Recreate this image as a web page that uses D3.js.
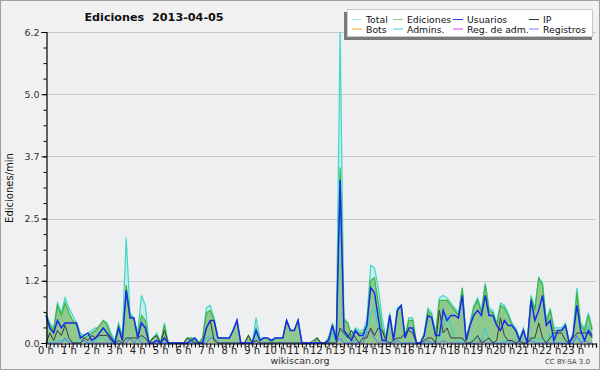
<!DOCTYPE html>
<html>
<head>
<meta charset="utf-8">
<script src="https://cdn.jsdelivr.net/npm/d3@7"></script>
<style>
  body { margin: 0; background: #fff; }
  svg { display: block; }
  text { font-family: "DejaVu Sans", sans-serif; }
</style>
</head>
<body>
<svg id="chart" width="600" height="370"></svg>
<script>
// 10-minute buckets, 144 per day, edits per minute
const total = [
  0.6, 0.4, 0.3, 0.8, 0.6, 0.9, 0.7, 0.55, 0.4, 0.2, 0.15, 0.2, 0.25, 0.3, 0.3, 0.45, 0.4, 0.2, 0.05, 0.4, 0.15, 2.1, 0.6, 0.5, 0.2, 0.95, 0.75, 0, 0.1, 0.2, 0, 0.4,
  0, 0, 0, 0, 0, 0.1, 0.1, 0.1, 0, 0.1, 0.7, 0.75, 0.5, 0.1, 0.1, 0.1, 0.1, 0.25, 0.45, 0, 0, 0.15, 0, 0.5, 0.1, 0.1, 0.1, 0.05, 0.1, 0.1, 0.1, 0.45,
  0.25, 0.25, 0.45, 0, 0, 0, 0, 0.1, 0, 0, 0.1, 0.4, 0.1, 6.2, 0.5, 0.4, 0.15, 0.3, 0.25, 0.25, 0.45, 1.55, 1.5, 1.1, 0.5, 0.1, 0.6, 0.1, 0.7, 0.75, 0.15, 0.5,
  0.5, 0, 0, 0.2, 0.7, 0.6, 0.2, 0.9, 0.95, 0.9, 0.8, 0.7, 0.6, 1.1, 0.1, 0.4, 0.75, 0.9, 0.65, 1.2, 0.7, 0.65, 0.4, 0.8, 0.75, 0.6, 0.4, 0.3, 0.1, 0.3,
  0, 0.95, 0.7, 1.3, 1.2, 0.45, 0.7, 0.3, 0.3, 0.3, 0.4, 0, 0.2, 1.1, 0.4, 0.3, 0.6, 0.3
];
const ediciones = [
  0.6, 0.35, 0.25, 0.75, 0.55, 0.8, 0.6, 0.45, 0.35, 0.15, 0.1, 0.15, 0.2, 0.25, 0.35, 0.45, 0.35, 0.15, 0, 0.35, 0.1, 1.15, 0.55, 0.5, 0.15, 0.55, 0.45, 0, 0.1, 0.15, 0, 0.35,
  0, 0, 0, 0, 0, 0.1, 0.1, 0.05, 0, 0.1, 0.6, 0.65, 0.45, 0.1, 0.1, 0.1, 0.1, 0.25, 0.45, 0, 0, 0.15, 0, 0.3, 0.05, 0.1, 0.1, 0, 0.1, 0.1, 0.1, 0.45,
  0.25, 0.25, 0.45, 0, 0, 0, 0, 0.1, 0, 0, 0.1, 0.35, 0.1, 3.5, 0.45, 0.4, 0.1, 0.25, 0.2, 0.2, 0.35, 1.25, 1.3, 0.8, 0.3, 0.1, 0.55, 0.1, 0.65, 0.75, 0.1, 0.45,
  0.45, 0, 0, 0.15, 0.65, 0.55, 0.15, 0.85, 0.85, 0.85, 0.75, 0.65, 0.55, 1.1, 0.05, 0.35, 0.7, 0.85, 0.6, 1.15, 0.65, 0.6, 0.35, 0.75, 0.7, 0.55, 0.35, 0.25, 0.05, 0.25,
  0, 0.9, 0.65, 1.3, 1.15, 0.4, 0.65, 0.25, 0.25, 0.25, 0.35, 0, 0.15, 1.0, 0.35, 0.25, 0.55, 0.25
];
const usuarios = [
  0.55, 0.3, 0.2, 0.45, 0.3, 0.4, 0.4, 0.4, 0.4, 0.1, 0.15, 0.2, 0.05, 0.1, 0.2, 0.3, 0.2, 0.1, 0, 0.3, 0.05, 1.05, 0.5, 0.5, 0.1, 0.4, 0.3, 0, 0, 0.05, 0, 0.1,
  0, 0, 0, 0, 0, 0, 0.05, 0.1, 0, 0, 0.3, 0.45, 0.45, 0.1, 0.1, 0.1, 0.1, 0.25, 0.45, 0, 0, 0, 0, 0.25, 0.05, 0.1, 0.1, 0.05, 0.1, 0.1, 0.1, 0.45,
  0.25, 0.25, 0.45, 0, 0, 0, 0, 0, 0, 0, 0.05, 0.35, 0.05, 3.25, 0.25, 0.15, 0.05, 0.25, 0.15, 0.15, 0.35, 1.1, 1.0, 0.5, 0.05, 0.05, 0.55, 0.05, 0.65, 0.75, 0.1, 0.3,
  0.3, 0, 0, 0.15, 0.55, 0.5, 0.15, 0.15, 0.65, 0.45, 0.55, 0.55, 0.5, 0.95, 0.05, 0.35, 0.55, 0.65, 0.55, 0.95, 0.55, 0.55, 0.35, 0.25, 0.45, 0.35, 0.35, 0.25, 0.05, 0.25,
  0, 0.85, 0.45, 0.65, 0.95, 0.35, 0.45, 0.05, 0.25, 0.25, 0.35, 0, 0.15, 0.75, 0.25, 0.05, 0.25, 0.15
];
const ip = [
  0, 0.2, 0.05, 0.25, 0.15, 0.35, 0.1, 0, 0, 0, 0.1, 0.05, 0.15, 0.1, 0.15, 0.15, 0.15, 0.05, 0, 0.05, 0, 0.1, 0.1, 0.1, 0.1, 0.15, 0.1, 0, 0.1, 0.15, 0, 0.25,
  0, 0, 0, 0, 0, 0.1, 0.05, 0, 0, 0, 0.3, 0.45, 0.05, 0, 0, 0, 0, 0, 0, 0, 0, 0.15, 0, 0.05, 0, 0, 0, 0, 0, 0, 0, 0,
  0, 0, 0, 0, 0, 0, 0.05, 0.1, 0, 0, 0, 0, 0, 0.3, 0.2, 0.1, 0.25, 0.1, 0, 0.1, 0.1, 0.3, 0.15, 0.3, 0.25, 0.05, 0, 0.05, 0.1, 0.1, 0.2, 0.25,
  0.2, 0, 0, 0.05, 0.1, 0.1, 0, 0.65, 0.2, 0.3, 0.1, 0.1, 0.1, 0.1, 0, 0, 0.05, 0.15, 0, 0.05, 0.1, 0, 0.05, 0.5, 0.15, 0.05, 0.05, 0, 0.05, 0,
  0, 0.1, 0.1, 0.4, 0.1, 0, 0.1, 0.2, 0.2, 0.2, 0.05, 0, 0.1, 0.2, 0.2, 0.2, 0.2, 0.1
];
const admins = [
  0, 0, 0, 0.05, 0.05, 0.05, 0.05, 0, 0, 0.1, 0, 0, 0, 0.05, 0.1, 0.1, 0.05, 0, 0, 0, 0, 0.1, 0.1, 0, 0, 0.1, 0.1, 0, 0, 0, 0, 0,
  0, 0, 0, 0, 0, 0, 0, 0, 0, 0, 0.1, 0.15, 0.1, 0, 0, 0, 0, 0, 0, 0, 0, 0, 0, 0.3, 0, 0, 0, 0, 0, 0, 0, 0,
  0, 0, 0, 0, 0, 0, 0, 0, 0, 0, 0, 0.2, 0, 0.3, 0.1, 0, 0, 0.05, 0, 0.1, 0.25, 0.6, 0.7, 0.3, 0.1, 0, 0, 0, 0.05, 0, 0, 0,
  0, 0, 0, 0, 0, 0, 0, 0.1, 0.3, 0.55, 0.35, 0.1, 0, 0.05, 0, 0, 0.1, 0.1, 0.05, 0.3, 0.05, 0, 0, 0, 0.05, 0, 0, 0.05, 0, 0,
  0, 0.1, 0, 0.1, 0.05, 0, 0.2, 0, 0, 0, 0, 0, 0, 0.1, 0, 0.2, 0.35, 0.1
];
const registros = [
  0, 0, 0, 0, 0, 0.1, 0, 0, 0, 0, 0.05, 0, 0, 0, 0, 0, 0, 0, 0, 0, 0, 0, 0.1, 0, 0.1, 0, 0, 0, 0, 0, 0, 0,
  0, 0, 0, 0, 0, 0, 0, 0, 0, 0, 0, 0.1, 0.1, 0, 0, 0, 0, 0, 0, 0, 0, 0, 0, 0, 0, 0, 0, 0, 0, 0, 0, 0,
  0, 0, 0, 0, 0, 0, 0, 0, 0, 0, 0, 0, 0, 0.1, 0, 0, 0, 0, 0, 0, 0.2, 0.25, 0.1, 0, 0, 0, 0, 0, 0.05, 0, 0, 0,
  0, 0, 0, 0, 0.05, 0, 0, 0, 0.05, 0, 0, 0, 0, 0, 0, 0, 0, 0, 0.05, 0, 0, 0, 0, 0, 0, 0.05, 0, 0, 0, 0,
  0, 0.05, 0, 0, 0, 0, 0, 0, 0, 0, 0, 0, 0, 0.15, 0, 0.05, 0, 0
];

const yTicks = [0, 1.24, 2.48, 3.72, 4.96, 6.2];
const yTickLabels = ["0.0", "1.2", "2.5", "3.7", "5.0", "6.2"];
const hours = d3.range(24);

const legendItems = [
  { name: "Total", color: "#a8eeee" },
  { name: "Ediciones", color: "#7fd07f" },
  { name: "Usuarios", color: "#3333ee" },
  { name: "IP", color: "#333333" },
  { name: "Bots", color: "#ffa030" },
  { name: "Admins.", color: "#40d0e4" },
  { name: "Reg. de adm.", color: "#e040f0" },
  { name: "Registros", color: "#7f7fff" }
];

const W = 600, H = 370;
const m = { top: 32, right: 4, bottom: 27, left: 46 };
const narrow = "'Liberation Sans', Arial, sans-serif";

const svg = d3.select("#chart");

svg.append("rect").attr("x", 0.5).attr("y", 0.5)
  .attr("width", W - 1).attr("height", H - 1)
  .attr("fill", "#f1f1f1").attr("stroke", "#a0a0a0");

const x = d3.scaleLinear().domain([0, 24]).range([m.left, W - m.right]);
const y = d3.scaleLinear().domain([0, 6.2]).range([H - m.bottom, m.top]);

svg.append("rect")
  .attr("x", m.left).attr("y", m.top)
  .attr("width", W - m.right - m.left).attr("height", H - m.bottom - m.top)
  .attr("fill", "#eeeff1");

// grid
svg.append("g").selectAll("line").data(yTicks.slice(1)).join("line")
  .attr("x1", m.left).attr("x2", W - m.right)
  .attr("y1", d => Math.round(y(d)) + 0.5).attr("y2", d => Math.round(y(d)) + 0.5)
  .attr("stroke", "#c9c9c9");

const px = (d, i) => x(i / 6);

const area = d3.area().x(px).y0(y(0)).y1(d => y(d));
const line = d3.line().x(px).y(d => y(d));

const plot = svg.append("g");
plot.append("path").datum(total).attr("d", area).attr("fill", "#c6eeec");
plot.append("path").datum(total).attr("d", line).attr("fill", "none").attr("stroke", "#3fd6c6").attr("stroke-width", 1.2);
plot.append("path").datum(ediciones).attr("d", area).attr("fill", "#90c990");
plot.append("path").datum(ediciones).attr("d", line).attr("fill", "none").attr("stroke", "#3cb53c").attr("stroke-width", 1.2);
plot.append("path").datum(admins).attr("d", line).attr("fill", "none").attr("stroke", "#2fcfe0").attr("stroke-width", 1);
plot.append("path").datum(registros).attr("d", line).attr("fill", "none").attr("stroke", "#6a6aff").attr("stroke-width", 1);
plot.append("path").datum(ip).attr("d", line).attr("fill", "none").attr("stroke", "#3a3a3a").attr("stroke-width", 1);
plot.append("path").datum(usuarios).attr("d", line).attr("fill", "none").attr("stroke", "#1a2ae8").attr("stroke-width", 1.5);

// axes
const yAxis = d3.axisLeft(y).tickValues(yTicks)
  .tickFormat((d, i) => yTickLabels[i]).tickSize(5).tickPadding(2);
const yMinor = d3.axisLeft(y).tickValues(d3.range(0, 6.21, 0.31)).tickFormat("").tickSize(3);
const xAxis = d3.axisBottom(x).tickValues(d3.range(0, 24.01, 1 / 6)).tickFormat("").tickSize(4);

const gy = svg.append("g").attr("transform", `translate(${m.left + 0.5},0)`).call(yAxis);
svg.append("g").attr("transform", `translate(${m.left + 0.5},0)`).call(yMinor).select(".domain").remove();
const gx = svg.append("g").attr("transform", `translate(0,${H - m.bottom + 0.5})`).call(xAxis);

[gy, gx].forEach(g => {
  g.select(".domain").attr("stroke", "#000").attr("stroke-width", 1.2);
});
svg.selectAll(".tick line").attr("stroke", "#000");
gy.selectAll("text").attr("font-size", 9.5).attr("fill", "#333").attr("font-family", narrow);

svg.append("g").selectAll("text").data(hours).join("text")
  .attr("x", d => x(d)).attr("y", 354)
  .attr("text-anchor", "middle").attr("font-size", 10).attr("fill", "#222")
  .attr("font-family", narrow)
  .text(d => d + " h");

// titles
svg.append("text").attr("x", 154).attr("y", 21).attr("text-anchor", "middle")
  .attr("font-size", 11.2).attr("font-weight", "bold").attr("fill", "#111")
  .style("white-space", "pre")
  .text("Ediciones  2013-04-05");

svg.append("text").attr("transform", "translate(13,188) rotate(-90)")
  .attr("text-anchor", "middle").attr("font-size", 10)
  .attr("font-family", "DejaVu Sans Mono").attr("fill", "#111")
  .text("Ediciones/min");

svg.append("text").attr("x", 300).attr("y", 364).attr("text-anchor", "middle")
  .attr("font-size", 9.5).attr("fill", "#333").attr("font-family", narrow).text("wikiscan.org");

svg.append("text").attr("x", 590).attr("y", 364).attr("text-anchor", "end")
  .attr("font-size", 7).attr("fill", "#444").attr("font-family", narrow).text("CC BY-SA 3.0");

// legend
const lg = svg.append("g");
lg.append("rect").attr("x", 344).attr("y", 12).attr("width", 248).attr("height", 28).attr("fill", "#7a7a7a");
lg.append("rect").attr("x", 347.5).attr("y", 9.5).attr("width", 245).attr("height", 27)
  .attr("fill", "#fff").attr("stroke", "#c8c8c8");
const colX = [352, 393, 453, 529];
const rowY = [19.5, 29];
legendItems.forEach((d, i) => {
  const cx = colX[i % 4], cy = rowY[Math.floor(i / 4)];
  lg.append("line").attr("x1", cx).attr("x2", cx + 10).attr("y1", cy).attr("y2", cy)
    .attr("stroke", d.color).attr("stroke-width", 1);
  lg.append("text").attr("x", cx + 14).attr("y", cy + 3.5)
    .attr("font-size", 9.3).attr("font-family", narrow).attr("fill", "#111").text(d.name);
});
</script>
</body>
</html>
